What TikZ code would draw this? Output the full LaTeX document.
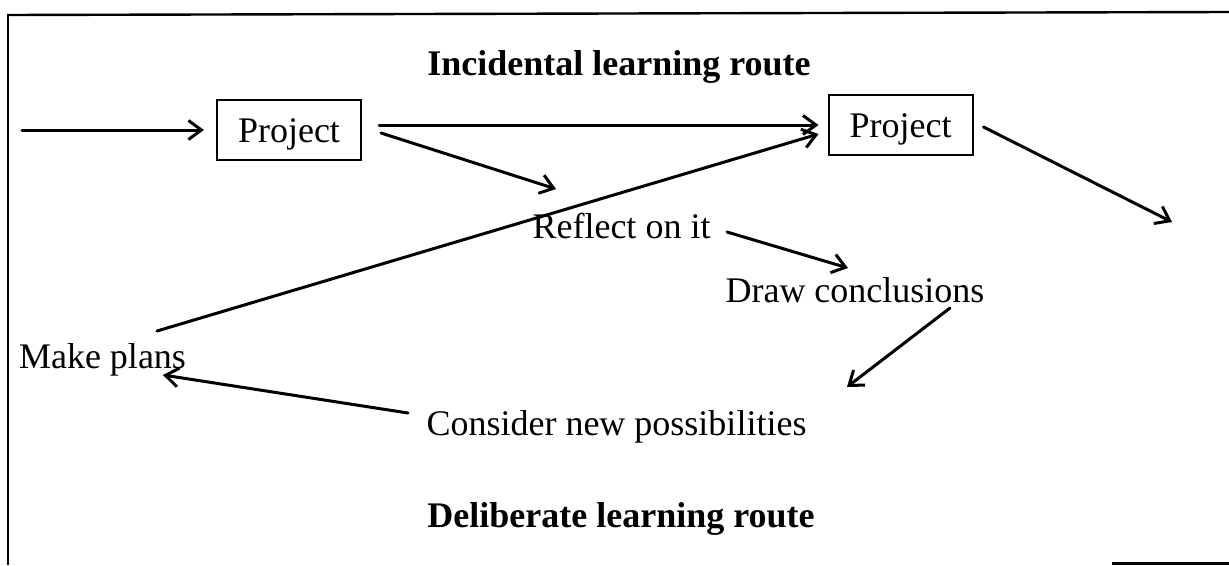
\documentclass[tikz,border=0pt]{standalone}
\usepackage{fontspec}
\setmainfont{Liberation Serif}
\usetikzlibrary{arrows.meta}

\begin{document}
\begin{tikzpicture}[x=10pt,y=10pt]
    \tikzstyle{every node}+=[font=\fontsize{36}{42}\selectfont]
    \tikzstyle{projbox}=[draw, line width=2pt, minimum width=144pt, minimum height=60pt, inner sep=0pt, text height=24pt, text depth=0pt]
    \tikzstyle{stage}=[anchor=base, inner sep=0pt]
    \tikzstyle{arr}=[line width=3pt, line cap=round, -{Straight Barb[length=13pt,width=19pt]}]
    \useasboundingbox (0,0) rectangle (122.9,-56.5);
    \draw [line width=2.4pt] (0.7,-1.5) -- (122.9,-1.2);
    \draw [line width=2.4pt] (0.8,-1.5) -- (0.8,-56.5);
    \draw [line width=2.2pt] (111.2,-56.35) -- (122.9,-56.35);
    \node [stage] (incid) at (61.9,-7.5) {\textbf{Incidental learning route}};
    \node [stage] (delib) at (62.1,-52.7) {\textbf{Deliberate learning route}};
    \node [projbox] (p1) at (28.9,-13.0) {Project};
    \node [projbox] (p2) at (90.05,-12.5) {Project};
    \node [stage] (reflect) at (62.15,-23.8) {Reflect on it};
    \node [stage] (concl) at (85.5,-30.2) {Draw conclusions};
    \node [stage] (consider) at (61.65,-43.5) {Consider new possibilities};
    \node [stage] (plans) at (10.25,-36.8) {Make plans};
    \coordinate (in) at (2.2,-13.0);
    \coordinate (out) at (117.2,-22.2);
    \draw [arr, shorten >=12pt] (in) -- (p1);
    \draw [arr] ([shift={(1.7,0.5)}]p1.east) -- ([shift={(-0.9,0)}]p2.west);
    \draw [arr] ([shift={(1.9,-0.3)}]p1.east) -- ([shift={(-6.55,4.9)}]reflect.base);
    \draw [arr] ([shift={(5.45,3.7)}]plans.base) -- ([shift={(-0.9,-0.9)}]p2.west);
    \draw [arr] ([shift={(10.55,0.6)}]reflect.base) -- ([shift={(-0.7,3.4)}]concl.base);
    \draw [arr] ([shift={(9.5,-0.6)}]concl.base) -- ([shift={(23.05,4.8)}]consider.base);
    \draw [arr] ([shift={(-20.85,2.2)}]consider.base) -- ([shift={(6.05,-0.7)}]plans.base);
    \draw [arr] ([shift={(1.0,-0.2)}]p2.east) -- (out);
\end{tikzpicture}
\end{document}
